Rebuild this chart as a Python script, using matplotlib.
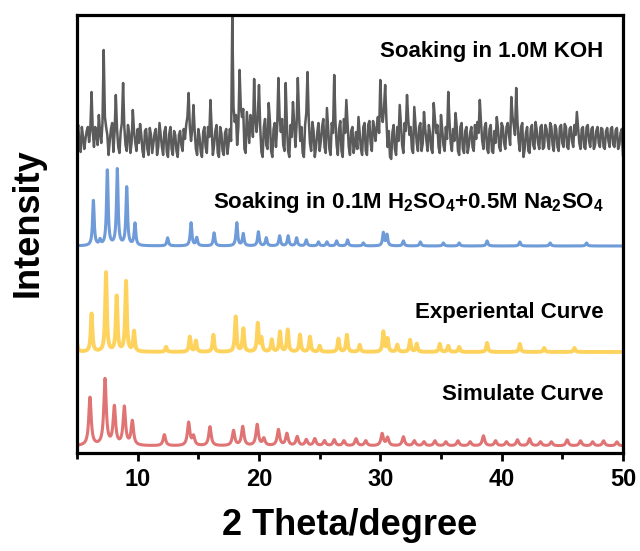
import numpy as np
import matplotlib
matplotlib.use("Agg")
import matplotlib.pyplot as plt

plt.rcParams['font.family'] = ['Liberation Sans', 'DejaVu Sans']
plt.rcParams['font.weight'] = 'bold'
plt.rcParams['mathtext.fontset'] = 'custom'
plt.rcParams['mathtext.rm'] = 'Liberation Sans:bold'
plt.rcParams['mathtext.bf'] = 'Liberation Sans:bold'

# ============================================================
# Datos (intensidad en unidades arbitrarias)
# ============================================================
# KOH: puntos enteros del barrido (paso 0.2 grados, desde 5 hasta 50)
koh_start, koh_step = 5.0, 0.2
koh_counts = [
    5, -8, 10, -12, 6, -5, 45, -10, 4, 22,
    -6, 87, 10, -18, 8, -15, 42, -10, 5, 54,
    -8, 12, -16, 27, -5, 8, 13, -14, 6, -12,
    9, -16, 4, -18, 14, -10, 5, -15, 3, -12,
    6, -14, 2, -8, 8, 12, 44, -4, 32, -12,
    8, -15, 5, -10, 10, 37, -18, 6, -16, 10,
    -14, 4, -17, 8, 120, 15, -8, 67, 20, -12,
    25, -6, 15, 58, 5, 52, -15, 10, -8, 34,
    -14, 8, -10, 59, 5, -8, 54, -14, 12, 35,
    -10, 59, -4, -16, 12, 65, -6, 15, -20, 4,
    -14, 10, -10, 29, -12, 14, 62, -8, 8, -14,
    18, 37, -10, 6, -16, 5, 20, -12, 10, -14,
    12, -6, 16, -4, 20, 57, 15, 52, -10, -20,
    5, -12, 10, 32, -8, 14, 42, 2, -12, 30,
    -6, 10, -14, 25, -4, 12, -12, 34, 4, -10,
    22, -8, 10, 45, -6, 8, 24, -14, 10, -12,
    6, -16, 4, -10, 12, 15, 37, -4, 10, -12,
    8, -14, 6, 20, -10, 14, -6, 10, 2, 40,
    12, 49, -4, 10, -20, 4, -14, 8, -8, 15,
    -6, 10, -12, 12, -4, 14, -8, 12, -10, 10,
    -6, 13, -10, 8, -4, 12, 25, -6, 8, -10,
    10, -4, 8, -12, 6, -6, 9, -10, 6, -4,
    8, -8, 7, -12, 4, -18,
]
# puntos intermedios (a mitad de paso)
koh_counts_mid = [
    12, -15, 0, -2, 10, 8, 6, 10, -8, 4,
    14, 20, 2, -4, 14, 6, 8, -16, 14, 10,
    -14, 4, -6, 6, -14, -6, 2, -20, 8, -18,
    2, -6, 8, -10, 2, -18, 10, -20, 10, -18,
    2, -20, 6, -14, -2, 20, 10, 8, 6, -18,
    0, -20, 10, -16, 0, 8, -8, 12, -20, 4,
    -18, 8, -6, -4, 30, 22, 10, 30, 28, -16,
    10, 22, 0, 18, 20, 10, -20, 18, -12, 16,
    -20, 14, 10, 20, 18, -14, 12, -20, 0, 14,
    12, 22, 10, -20, 24, 18, -14, 6, -10, 14,
    -4, 18, -16, 8, -18, 4, 16, -18, 16, -20,
    4, 14, -18, 10, -8, -12, 4, -18, 14, -18,
    16, -14, 8, 10, 4, 24, 28, 18, 6, -22,
    12, -18, -4, 12, -16, 6, 18, 10, -16, 12,
    -14, 14, -6, 8, -14, 4, -16, 18, 12, -16,
    8, -14, -2, 16, -14, -4, 10, -18, 14, -16,
    10, -8, 10, -14, -2, 4, 14, -12, 14, -16,
    12, -16, -6, 8, -14, 10, -12, 14, -8, 20,
    2, 16, -14, 14, -12, 10, -16, 12, -12, 6,
    -12, 12, -10, 8, -12, 10, -14, 8, -14, 12,
    -10, 10, -12, 10, -10, 2, 10, -12, 10, -12,
    12, -10, 10, -8, 10, -10, 8, -12, 9, -10,
    10, -10, 9, -8, 8,
]

# Posiciones (2 theta) y alturas de los picos
h2so4_pos = [6.35, 6.9, 7.5, 8.32, 9.1, 9.78, 12.47, 14.4, 14.87, 16.3,
             18.17, 18.7, 19.95, 20.6, 21.7, 22.4, 23.1, 23.9, 24.9, 25.6,
             26.4, 27.3, 28.6, 30.25, 30.55, 31.9, 33.3, 35.2, 36.5, 38.8,
             41.5, 44.0, 47.0]
h2so4_hgt = [45, 5, 75, 76, 58, 22, 8, 23, 8, 13,
             23, 12, 14, 8, 10, 10, 8, 6, 4, 4,
             5, 6, 3, 13, 11, 5, 4, 3, 3, 5,
             4, 3, 3]

exp_pos = [4.95, 6.2, 7.39, 8.27, 9.04, 9.7, 12.34, 14.3, 14.8, 16.24,
           18.08, 18.71, 19.9, 20.2, 21.05, 21.73, 22.37, 23.38, 24.2, 25.0,
           26.55, 27.24, 28.3, 30.25, 30.6, 31.4, 32.45, 33.0, 34.9, 35.6,
           36.5, 38.8, 41.5, 43.5, 46.0]
exp_hgt = [14, 38, 79, 55, 70, 20, 5, 15, 11, 17,
           35, 23, 28, 13, 12, 20, 22, 17, 15, 6,
           13, 17, 7, 20, 13, 7, 12, 8, 8, 6,
           5, 9, 8, 4, 4]

sim_pos = [6.07, 7.31, 8.08, 8.9, 9.56, 12.2, 14.2, 14.6, 15.96, 17.9,
           18.66, 19.85, 20.4, 21.6, 22.3, 23.15, 23.9, 24.6, 25.4, 26.2,
           27.0, 28.0, 28.8, 30.15, 30.6, 31.9, 32.8, 33.6, 34.5, 35.4,
           36.4, 37.4, 38.5, 39.5, 40.4, 41.3, 42.3, 43.2, 44.1, 45.4,
           46.5, 47.5, 48.4, 49.5]
sim_hgt = [48, 66, 38, 38, 24, 11, 23, 9, 19, 15,
           19, 21, 7, 16, 12, 9, 6, 7, 5, 6,
           5, 7, 5, 12, 8, 9, 5, 4, 5, 4,
           5, 4, 10, 5, 4, 6, 7, 4, 4, 6,
           5, 4, 5, 4]

labels = ["Soaking in 1.0M KOH",
          r"Soaking in 0.1M H$_2$SO$_4$+0.5M Na$_2$SO$_4$",
          "Experiental Curve",
          "Simulate Curve"]
colors = ["#5b5b5b", "#6f9bd8", "#fdd35e", "#e07474"]
offsets = [316, 207, 101, 7]

# ============================================================
# Perfiles
# ============================================================
tt = np.linspace(5, 50, 4501)

def profile(pos, hgt, gamma):
    y = np.zeros_like(tt)
    for p, h in zip(pos, hgt):
        y += h / (1 + ((tt - p) / gamma) ** 2)
    return y

# intercalar puntos enteros e intermedios
koh_y = np.empty(len(koh_counts) + len(koh_counts_mid))
koh_y[0::2] = koh_counts
koh_y[1::2] = koh_counts_mid
koh_x = koh_start + (koh_step / 2) * np.arange(len(koh_y))

fig = plt.figure(figsize=(6.4, 5.51), dpi=100)
ax = fig.add_axes([0.1203, 0.1779, 0.8531, 0.7949])

ax.plot(koh_x, koh_y + offsets[0], color=colors[0], lw=1.8)
ax.plot(tt, profile(h2so4_pos, h2so4_hgt, 0.08) + offsets[1], color=colors[1], lw=2.2)
ax.plot(tt, profile(exp_pos, exp_hgt, 0.08) + offsets[2], color=colors[2], lw=2.8)
ax.plot(tt, profile(sim_pos, sim_hgt, 0.12) + offsets[3], color=colors[3], lw=2.2)

text_y = [401, 250, 140, 58]
for lab, ty in zip(labels, text_y):
    ax.text(48.4, ty, lab, ha='right', va='center', fontsize=16, fontweight='bold')

ax.set_xlim(5, 50)
ax.set_ylim(0, 438)
ax.set_xticks([10, 20, 30, 40, 50])
ax.set_xticks([5, 15, 25, 35, 45], minor=True)
ax.set_yticks([])
ax.tick_params(axis='x', which='major', direction='out', length=6, width=2,
               labelsize=17, pad=5)
ax.tick_params(axis='x', which='minor', direction='out', length=4, width=2)
for lab in ax.get_xticklabels():
    lab.set_fontweight('bold')
for sp in ax.spines.values():
    sp.set_linewidth(2.3)

ax.set_xlabel("2 Theta/degree", fontsize=26, fontweight='bold', labelpad=12)
ax.set_ylabel("Intensity", fontsize=26, fontweight='bold')
ax.yaxis.set_label_coords(-0.058, 0.527)

fig.savefig("out.png", dpi=100)
